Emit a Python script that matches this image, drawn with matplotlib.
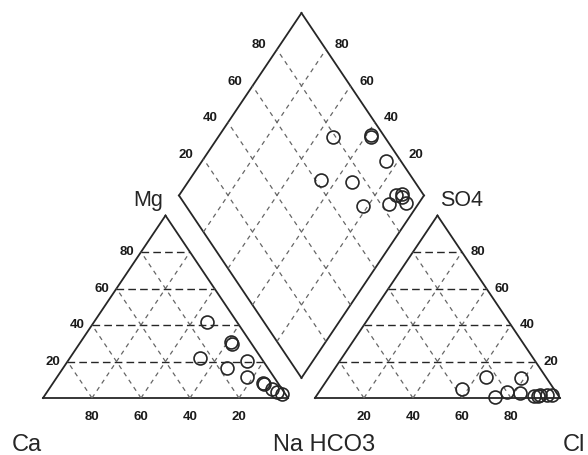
import numpy as np
import matplotlib
matplotlib.use('Agg')
import matplotlib.pyplot as plt

# cation triangle: Mg and Na in percent (Ca is the rest)
cation_mg = [41.5, 29.4, 30.5, 22.1, 16.3, 20.3, 11.7, 7.5, 8.2, 4.9, 3.1, 2.2]
cation_na = [46.0, 62.3, 61.5, 53.0, 66.8, 73.0, 77.3, 86.6, 85.6, 90.9, 93.8, 96.3]

# anion triangle: SO4 and Cl in percent (HCO3 is the rest)
anion_so4 = [5.2, 11.7, 11.2, 0.8, 3.45, 3.0, 1.1, 1.6, 1.2, 1.6, 1.9]
anion_cl = [57.3, 64.0, 78.5, 72.9, 76.6, 82.2, 88.9, 91.1, 90.4, 93.9, 96.0]

# diamond: Cl+SO4 and Ca+Mg in percent
dia_clso4 = [78.9, 95.2, 94.5, 93.8, 62.2, 74.2, 72.4, 83.4, 88.7, 90.7, 91.5, 90.7]
dia_camg = [52.9, 38.2, 37.5, 25.2, 46.3, 33.0, 22.0, 12.1, 11.5, 8.7, 9.5, 5.4]

ticks = [20, 40, 60, 80]

S = np.sqrt(3) / 2
GAP = 11.0
X0 = 100 + GAP          # left corner of the anion triangle
XM = 100 + GAP / 2      # bottom corner of the diamond
YM = GAP / 2 * np.sqrt(3)


def cat_xy(mg, na):
    mg = np.asarray(mg, float)
    na = np.asarray(na, float)
    return na + mg / 2, mg * S


def an_xy(so4, cl):
    so4 = np.asarray(so4, float)
    cl = np.asarray(cl, float)
    return X0 + cl + so4 / 2, so4 * S


def dia_xy(p1, p2):
    p1 = np.asarray(p1, float)
    p2 = np.asarray(p2, float)
    return XM + 0.5 * (p1 - p2), YM + S * (p1 + p2)


fig = plt.figure(figsize=(5.88, 4.55), dpi=100)
ax = fig.add_axes([0, 0, 1, 1])
ax.set_xlim(-17.55, 222.45)
ax.set_ylim(-27.05, 188.9)
ax.axis('off')

edge = dict(color='0.15', lw=1.3, solid_joinstyle='miter')
hgrid = dict(color='0.15', lw=1.0, dashes=(5.5, 3))
dgrid = dict(color='0.4', lw=0.9, dashes=(3.5, 3.5))


def seg(f, a, b, **kw):
    x1, y1 = f(*a)
    x2, y2 = f(*b)
    ax.plot([x1, x2], [y1, y2], **kw)


# triangles
for f in (cat_xy, an_xy):
    seg(f, (0, 0), (0, 100), **edge)
    seg(f, (0, 100), (100, 0), **edge)
    seg(f, (100, 0), (0, 0), **edge)
    for k in ticks:
        seg(f, (k, 0), (k, 100 - k), **hgrid)
        seg(f, (0, k), (100 - k, k), **dgrid)
        seg(f, (0, 100 - k), (100 - k, 0), **dgrid)

# diamond
for a, b in [((0, 0), (100, 0)), ((100, 0), (100, 100)),
             ((100, 100), (0, 100)), ((0, 100), (0, 0))]:
    seg(dia_xy, a, b, **edge)
for k in ticks:
    seg(dia_xy, (k, 0), (k, 100), **dgrid)
    seg(dia_xy, (0, k), (100, k), **dgrid)

# tick labels
tfont = dict(fontsize=9.5, family='Liberation Sans', color='0.1', fontweight='bold')
for k in ticks:
    ax.annotate(str(100 - k), cat_xy(0, k), xytext=(0, -14), textcoords='offset points',
                ha='center', va='center', **tfont)
    ax.annotate(str(k), an_xy(0, k), xytext=(0, -14), textcoords='offset points',
                ha='center', va='center', **tfont)
    ax.annotate(str(k), cat_xy(k, 0), xytext=(-5, 0), textcoords='offset points',
                ha='right', va='center', **tfont)
    ax.annotate(str(k), an_xy(k, 100 - k), xytext=(6, 0), textcoords='offset points',
                ha='left', va='center', **tfont)
    ax.annotate(str(k), dia_xy(k, 100), xytext=(-13, 3.2), textcoords='offset points',
                ha='center', va='center', **tfont)
    ax.annotate(str(k), dia_xy(100, k), xytext=(11.5, 3.2), textcoords='offset points',
                ha='center', va='center', **tfont)

# samples
mk = dict(ls='none', marker='o', ms=9.3, mfc='none', mec='0.15', mew=1.2)
ax.plot(*cat_xy(cation_mg, cation_na), **mk)
ax.plot(*an_xy(anion_so4, anion_cl), **mk)
ax.plot(*dia_xy(dia_clso4, dia_camg), **mk)

# axis names
W, H = 588, 455
lfont = dict(family='Liberation Sans', color='0.15', va='baseline', ha='left')
fig.text(12 / W, 1 - 451 / H, 'Ca', fontsize=17, **lfont)
fig.text(273 / W, 1 - 451 / H, 'Na HCO3', fontsize=17, **lfont)
fig.text(563 / W, 1 - 451 / H, 'Cl', fontsize=17, **lfont)
fig.text(133 / W, 1 - 206 / H, 'Mg', fontsize=15.5, **lfont)
fig.text(440 / W, 1 - 206 / H, 'SO4', fontsize=15.5, **lfont)

fig.savefig('out.png', dpi=100, facecolor='white')
